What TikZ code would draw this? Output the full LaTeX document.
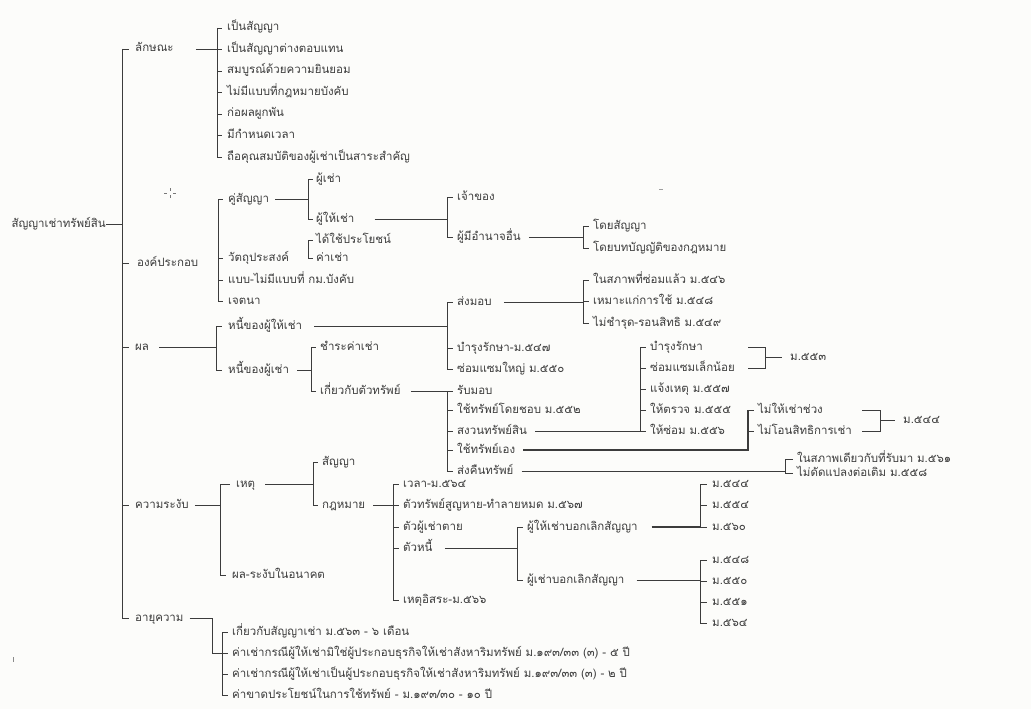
\documentclass[tikz,border=0pt]{standalone}
\usepackage{fontspec}
\newfontfamily\thai[Script=Thai]{Loma}
\definecolor{ink}{HTML}{3C3C3C}
\definecolor{paper}{HTML}{FCFCFA}
\begin{document}
\begin{tikzpicture}[x=1pt,y=-1pt,
  t/.style={anchor=west, inner sep=0pt, text height=8pt, text depth=2pt, font=\thai\fontsize{11.5}{13}\selectfont, text=ink},
  te/.style={t, anchor=east},
  ln/.style={draw=ink, line width=0.8pt},
  thick ln/.style={draw=ink, line width=1.6pt},
  tk/.style={draw=ink, line width=0.8pt}]
\fill[paper] (0,0) rectangle (1031,709);
\useasboundingbox (0,0) rectangle (1031,709);
% ---------- root and backbone
\node[te] (root) at (106,224) {สัญญาเช่าทรัพย์สิน};
\coordinate (b0) at (122,0);
\node[t] (L1) at (135,49) {ลักษณะ};
\node[t] (L2) at (137,263) {องค์ประกอบ};
\node[t] (L3) at (135,347) {ผล};
\node[t] (L4) at (135,505) {ความระงับ};
\node[t] (L5) at (135,618) {อายุความ};
\draw[ln] (root.east) -- (root.east -| b0);
\draw[ln] (L1.west -| b0) -- (L5.west -| b0);
\foreach \n in {L1,L2,L3,L4,L5} \draw[tk] (\n.west -| b0) -- ++(7,0);
% ---------- A: ลักษณะ
\coordinate (bA) at (217,0);
\node[t] (A1) at (227,28) {เป็นสัญญา};
\node[t] (A2) at (227,49.5) {เป็นสัญญาต่างตอบแทน};
\node[t] (A3) at (227,71) {สมบูรณ์ด้วยความยินยอม};
\node[t] (A4) at (227,92.5) {ไม่มีแบบที่กฎหมายบังคับ};
\node[t] (A5) at (227,114) {ก่อผลผูกพัน};
\node[t] (A6) at (227,135.5) {มีกำหนดเวลา};
\node[t] (A7) at (227,157) {ถือคุณสมบัติของผู้เช่าเป็นสาระสำคัญ};
\draw[ln] ([xshift=22pt]L1.east) -- (L1.east -| bA);
\draw[ln] (A1.west -| bA) -- (A7.west -| bA);
\foreach \n in {A1,A2,A3,A4,A5,A6,A7} \draw[tk] (\n.west -| bA) -- ++(5,0);
% ---------- B: องค์ประกอบ
\coordinate (bB) at (218,0);
\node[t] (B1) at (228,199) {คู่สัญญา};
\node[t] (B2) at (228,258) {วัตถุประสงค์};
\node[t] (B3) at (228,280) {แบบ-ไม่มีแบบที่ กม.บังคับ};
\node[t] (B4) at (228,301) {เจตนา};
\draw[ln] (B1.west -| bB) -- (B4.west -| bB);
\foreach \n in {B1,B2,B3,B4} \draw[tk] (\n.west -| bB) -- ++(5,0);
% C: คู่สัญญา
\coordinate (bC) at (308,0);
\node[t] (C1) at (316,179) {ผู้เช่า};
\node[t] (C2) at (316,219) {ผู้ให้เช่า};
\draw[ln] ([xshift=6pt]B1.east) -- (B1.east -| bC);
\draw[ln] (C1.west -| bC) -- (C2.west -| bC);
\foreach \n in {C1,C2} \draw[tk] (\n.west -| bC) -- ++(5,0);
% D: ผู้ให้เช่า
\coordinate (bD) at (447,0);
\node[t] (D1) at (457,197) {เจ้าของ};
\node[t] (D2) at (457,237) {ผู้มีอำนาจอื่น};
\draw[ln] ([xshift=20pt]C2.east) -- (C2.east -| bD);
\draw[ln] (D1.west -| bD) -- (D2.west -| bD);
\foreach \n in {D1,D2} \draw[tk] (\n.west -| bD) -- ++(6,0);
% E: ผู้มีอำนาจอื่น
\coordinate (bE) at (583,0);
\node[t] (E1) at (593,226) {โดยสัญญา};
\node[t] (E2) at (593,248) {โดยบทบัญญัติของกฎหมาย};
\draw[ln] ([xshift=8pt]D2.east) -- (D2.east -| bE);
\draw[ln] (E1.west -| bE) -- (E2.west -| bE);
\foreach \n in {E1,E2} \draw[tk] (\n.west -| bE) -- ++(6,0);
% F: วัตถุประสงค์
\coordinate (bF) at (308,0);
\node[t] (F1) at (316,240) {ได้ใช้ประโยชน์};
\node[t] (F2) at (316,258) {ค่าเช่า};
\draw[ln] (F1.west -| bF) -- (F2.west -| bF);
\foreach \n in {F1,F2} \draw[tk] (\n.west -| bF) -- ++(5,0);
% ---------- G: ผล
\coordinate (bG) at (216,0);
\node[t] (G1) at (228,326) {หนี้ของผู้ให้เช่า};
\node[t] (G2) at (228,370) {หนี้ของผู้เช่า};
\draw[ln] ([xshift=10pt]L3.east) -- (L3.east -| bG);
\draw[ln] (G1.west -| bG) -- (G2.west -| bG);
\foreach \n in {G1,G2} \draw[tk] (\n.west -| bG) -- ++(6,0);
% H: หนี้ของผู้ให้เช่า
\coordinate (bH) at (447,0);
\node[t] (H1) at (457,302) {ส่งมอบ};
\node[t] (H2) at (457,348) {บำรุงรักษา-ม.๕๔๗};
\node[t] (H3) at (457,369) {ซ่อมแซมใหญ่ ม.๕๕๐};
\draw[ln] ([xshift=12pt]G1.east) -- (G1.east -| bH);
\draw[ln] (H1.west -| bH) -- (H3.west -| bH);
\foreach \n in {H1,H2,H3} \draw[tk] (\n.west -| bH) -- ++(6,0);
% I: ส่งมอบ
\coordinate (bI) at (583,0);
\node[t] (I1) at (593,280) {ในสภาพที่ซ่อมแล้ว ม.๕๔๖};
\node[t] (I2) at (593,301) {เหมาะแก่การใช้ ม.๕๔๘};
\node[t] (I3) at (593,323) {ไม่ชำรุด-รอนสิทธิ ม.๕๔๙};
\draw[ln] ([xshift=12pt]H1.east) -- (H1.east -| bI);
\draw[ln] (I1.west -| bI) -- (I3.west -| bI);
\foreach \n in {I1,I2,I3} \draw[tk] (\n.west -| bI) -- ++(6,0);
% J: หนี้ของผู้เช่า
\coordinate (bJ) at (311,0);
\node[t] (J1) at (320,347) {ชำระค่าเช่า};
\node[t] (J2) at (320,391) {เกี่ยวกับตัวทรัพย์};
\draw[ln] ([xshift=8pt]G2.east) -- (G2.east -| bJ);
\draw[ln] (J1.west -| bJ) -- (J2.west -| bJ);
\foreach \n in {J1,J2} \draw[tk] (\n.west -| bJ) -- ++(5,0);
% K: เกี่ยวกับตัวทรัพย์
\coordinate (bK) at (447,0);
\node[t] (K1) at (457,391) {รับมอบ};
\node[t] (K2) at (457,410) {ใช้ทรัพย์โดยชอบ ม.๕๕๒};
\node[t] (K3) at (457,431) {สงวนทรัพย์สิน};
\node[t] (K4) at (457,450) {ใช้ทรัพย์เอง};
\node[t] (K5) at (457,471) {ส่งคืนทรัพย์};
\draw[ln] ([xshift=10pt]J2.east) -- (J2.east -| bK);
\draw[ln] (K1.west -| bK) -- (K5.west -| bK);
\foreach \n in {K1,K2,K3,K4,K5} \draw[tk] (\n.west -| bK) -- ++(6,0);
% L: สงวนทรัพย์สิน
\coordinate (bL) at (640,0);
\node[t] (M1) at (650,347) {บำรุงรักษา};
\node[t] (M2) at (650,368) {ซ่อมแซมเล็กน้อย};
\node[t] (M3) at (650,389) {แจ้งเหตุ ม.๕๕๗};
\node[t] (M4) at (650,410) {ให้ตรวจ ม.๕๕๕};
\node[t] (M5) at (650,431) {ให้ซ่อม ม.๕๕๖};
\draw[ln] ([xshift=8pt]K3.east) -- (K3.east -| bL);
\draw[ln] (M1.west -| bL) -- (M5.west -| bL);
\foreach \n in {M1,M2,M3,M4,M5} \draw[tk] (\n.west -| bL) -- ++(6,0);
% ม.๕๕๓
\coordinate (bX) at (765,0);
\node[t] (X1) at (790,357) {ม.๕๕๓};
\draw[ln] ([xshift=-17pt]M1.east -| bX) -- (M1.east -| bX) -- (M2.east -| bX) -- ++(-17,0);
\draw[ln] (X1.west -| bX) -- ([xshift=-8pt]X1.west);
% N: ใช้ทรัพย์เอง
\coordinate (bN) at (748,0);
\node[t] (N1) at (758,410) {ไม่ให้เช่าช่วง};
\node[t] (N2) at (758,431) {ไม่โอนสิทธิการเช่า};
\draw[thick ln, line width=1.2pt] ([xshift=8pt]K4.east) -- (K4.east -| bN) -- (N1.west -| bN);
\foreach \n in {N1,N2} \draw[tk] (\n.west -| bN) -- ++(6,0);
\coordinate (bY) at (880,0);
\node[t] (Y1) at (903,420.5) {ม.๕๔๔};
\draw[ln] ([xshift=-18pt]N1.east -| bY) -- (N1.east -| bY) -- (N2.east -| bY) -- ++(-18,0);
\draw[ln] (Y1.west -| bY) -- ([xshift=-8pt]Y1.west);
% O: ส่งคืนทรัพย์
\coordinate (bO) at (785,0);
\node[t] (P1) at (797,459) {ในสภาพเดียวกับที่รับมา ม.๕๖๑};
\node[t] (P2) at (797,473) {ไม่ดัดแปลงต่อเติม ม.๕๕๘};
\draw[ln] ([xshift=8pt]K5.east) -- (K5.east -| bO);
\draw[ln] (P1.west -| bO) -- (P2.west -| bO);
\foreach \n in {P1,P2} \draw[tk] (\n.west -| bO) -- ++(8,0);
% ---------- Q: ความระงับ
\coordinate (bQ) at (220,0);
\node[t] (Q1) at (236,484) {เหตุ};
\node[t] (Q2) at (232,575) {ผล-ระงับในอนาคต};
\draw[ln] ([xshift=6pt]L4.east) -- (L4.east -| bQ);
\draw[ln] (Q1.west -| bQ) -- (Q2.west -| bQ);
\draw[tk] (Q1.west -| bQ) -- ++(10,0);
\draw[tk] (Q2.west -| bQ) -- ++(6,0);
% R: เหตุ
\coordinate (bR) at (313,0);
\node[t] (R1) at (322,462) {สัญญา};
\node[t] (R2) at (322,505) {กฎหมาย};
\draw[ln] ([xshift=10pt]Q1.east) -- (Q1.east -| bR);
\draw[ln] (R1.west -| bR) -- (R2.west -| bR);
\foreach \n in {R1,R2} \draw[tk] (\n.west -| bR) -- ++(5,0);
% S: กฎหมาย
\coordinate (bS) at (393,0);
\node[t] (S1) at (403,484) {เวลา-ม.๕๖๔};
\node[t] (S2) at (403,505) {ตัวทรัพย์สูญหาย-ทำลายหมด ม.๕๖๗};
\node[t] (S3) at (403,527) {ตัวผู้เช่าตาย};
\node[t] (S4) at (403,548) {ตัวหนี้};
\node[t] (S5) at (403,600) {เหตุอิสระ-ม.๕๖๖};
\draw[ln] ([xshift=8pt]R2.east) -- (R2.east -| bS);
\draw[ln] (S1.west -| bS) -- (S5.west -| bS);
\foreach \n in {S1,S2,S3,S4,S5} \draw[tk] (\n.west -| bS) -- ++(6,0);
% T: ตัวหนี้
\coordinate (bT) at (517,0);
\node[t] (T1) at (527,527) {ผู้ให้เช่าบอกเลิกสัญญา};
\node[t] (T2) at (527,580) {ผู้เช่าบอกเลิกสัญญา};
\draw[ln] ([xshift=12pt]S4.east) -- (S4.east -| bT);
\draw[ln] (T1.west -| bT) -- (T2.west -| bT);
\foreach \n in {T1,T2} \draw[tk] (\n.west -| bT) -- ++(6,0);
% U: ผู้ให้เช่าบอกเลิกสัญญา
\coordinate (bU) at (700,0);
\node[t] (U1) at (712,484) {ม.๕๔๔};
\node[t] (U2) at (712,505) {ม.๕๕๔};
\node[t] (U3) at (712,527) {ม.๕๖๐};
\draw[thick ln] ([xshift=14pt]T1.east) -- (T1.east -| bU);
\draw[ln] (U1.west -| bU) -- (U3.west -| bU);
\foreach \n in {U1,U2,U3} \draw[tk] (\n.west -| bU) -- ++(7,0);
% V: ผู้เช่าบอกเลิกสัญญา
\node[t] (V1) at (712,560) {ม.๕๔๘};
\node[t] (V2) at (712,581) {ม.๕๕๐};
\node[t] (V3) at (712,602) {ม.๕๕๑};
\node[t] (V4) at (712,623) {ม.๕๖๔};
\draw[ln] ([xshift=12pt]T2.east) -- (T2.east -| bU);
\draw[ln] (V1.west -| bU) -- (V4.west -| bU);
\foreach \n in {V1,V2,V3,V4} \draw[tk] (\n.west -| bU) -- ++(7,0);
% ---------- W: อายุความ
\coordinate (bW0) at (212,0);
\coordinate (bW) at (222,0);
\node[t] (W1) at (232,632) {เกี่ยวกับสัญญาเช่า ม.๕๖๓ - ๖ เดือน};
\node[t] (W2) at (232,653) {ค่าเช่ากรณีผู้ให้เช่ามิใช่ผู้ประกอบธุรกิจให้เช่าสังหาริมทรัพย์ ม.๑๙๓/๓๓ (๓) - ๕ ปี};
\node[t] (W3) at (232,674) {ค่าเช่ากรณีผู้ให้เช่าเป็นผู้ประกอบธุรกิจให้เช่าสังหาริมทรัพย์ ม.๑๙๓/๓๓ (๓) - ๒ ปี};
\node[t] (W4) at (232,695) {ค่าขาดประโยชน์ในการใช้ทรัพย์ - ม.๑๙๓/๓๐ - ๑๐ ปี};
\draw[ln] ([xshift=6pt]L5.east) -- (L5.east -| bW0) -- (W2.west -| bW0) -- (W2.west -| bW);
\draw[ln] (W1.west -| bW) -- (W4.west -| bW);
\foreach \n in {W1,W2,W3,W4} \draw[tk] (\n.west -| bW) -- ++(6,0);
% ---------- scan marks
\draw[ink!70, line width=0.6pt] (164,193) -- (167,193) (173,193) -- (176,193) (170,188) -- (170,191) (170,195) -- (170,198);
\draw[ink!50, line width=0.6pt] (659,189) -- (663,189);
\draw[ink!60, line width=0.6pt] (13,657) -- (13,662);
\end{tikzpicture}
\end{document}
